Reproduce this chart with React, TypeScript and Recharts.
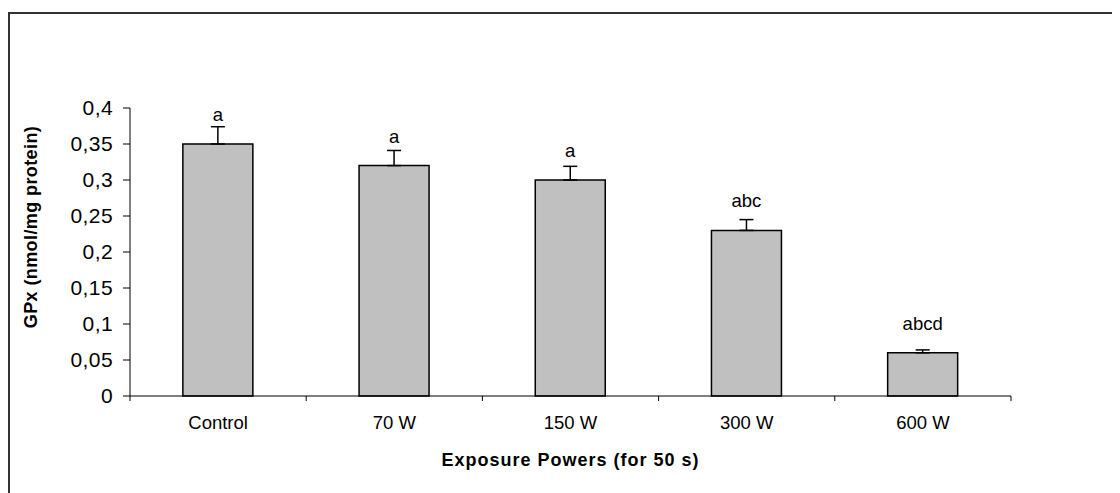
import { BarChart, Bar, XAxis, YAxis, ErrorBar, LabelList, Label } from 'recharts';

// ---- data ----
const categories = ['Control', '70 W', '150 W', '300 W', '600 W'];
const gpxValues = [0.35, 0.32, 0.3, 0.23, 0.06];
const gpxErrors = [0.024, 0.021, 0.019, 0.015, 0.004];
const significance = ['a', 'a', 'a', 'abc', 'abcd'];
const yTicks = [0, 0.05, 0.1, 0.15, 0.2, 0.25, 0.3, 0.35, 0.4];

const data = categories.map((name, i) => ({
  name,
  gpx: gpxValues[i],
  err: [0, gpxErrors[i]],
  sig: significance[i],
}));

// ---- layout ----
const FONT = '"Liberation Sans", Arial, sans-serif';
const CHART_W = 1110;
const CHART_H = 479;
const MARGIN = { top: 94, right: 109, bottom: 37, left: 0 };
const Y_AXIS_W = 120;
const BAND = (CHART_W - MARGIN.left - Y_AXIS_W - MARGIN.right) / categories.length;

const fmt = (v: number) => String(v).replace('.', ',');

function CategoryTick(props: any) {
  const { x, y, payload } = props;
  const idx = payload?.index ?? props.index;
  const half = BAND / 2;
  return (
    <g>
      <line x1={x - half} y1={y} x2={x - half} y2={y + 5} stroke="#000" />
      {idx === categories.length - 1 && (
        <line x1={x + half} y1={y} x2={x + half} y2={y + 5} stroke="#000" />
      )}
      <text x={x} y={y + 33} textAnchor="middle" fontSize={18.5} fontFamily={FONT} fill="#000">
        {payload.value}
      </text>
    </g>
  );
}

function SigLabel(props: any) {
  const { x, y, width, value } = props;
  return (
    <text x={x + width / 2} y={y - 23} textAnchor="middle" fontSize={18.5} fontFamily={FONT} fill="#000">
      {value}
    </text>
  );
}

export default function App() {
  return (
    <div style={{ paddingTop: 4 }}>
      <style>{'body{overflow:hidden}'}</style>
      <div
        style={{
          width: 1112,
          height: 481,
          boxSizing: 'border-box',
          borderTop: '2px solid #333',
          borderLeft: '2px solid #333',
          background: '#fff',
        }}
      >
        <BarChart
          width={CHART_W}
          height={CHART_H}
          data={data}
          margin={MARGIN}
          barCategoryGap="30%"
        >
          <XAxis
            dataKey="name"
            height={60}
            axisLine={{ stroke: '#000' }}
            tickLine={false}
            tickSize={0}
            tickMargin={0}
            interval={0}
            tick={<CategoryTick />}
          >
            <Label
              content={({ viewBox }: any) => (
                <text
                  x={viewBox.x + viewBox.width / 2}
                  y={viewBox.y + 70}
                  textAnchor="middle"
                  fontSize={18}
                  fontWeight="bold"
                  letterSpacing={1}
                  fontFamily={FONT}
                  fill="#000"
                >
                  Exposure Powers (for 50 s)
                </text>
              )}
            />
          </XAxis>
          <YAxis
            width={Y_AXIS_W}
            domain={[0, 0.4]}
            ticks={yTicks}
            tickFormatter={fmt}
            axisLine={{ stroke: '#000' }}
            tickLine={{ stroke: '#000' }}
            tickSize={7}
            tickMargin={10}
            tick={{ fill: '#000', fontSize: 21, fontFamily: FONT, letterSpacing: 0.4 }}
          >
            <Label
              content={({ viewBox }: any) => {
                const cx = viewBox.x + 27;
                const cy = viewBox.y + viewBox.height / 2 - 25;
                return (
                  <text
                    x={cx}
                    y={cy}
                    transform={`rotate(-90 ${cx} ${cy})`}
                    textAnchor="middle"
                    fontSize={18}
                    fontWeight="bold"
                    letterSpacing={0.4}
                    fontFamily={FONT}
                    fill="#000"
                  >
                    GPx (nmol/mg protein)
                  </text>
                );
              }}
            />
          </YAxis>
          <Bar
            dataKey="gpx"
            fill="#c0c0c0"
            stroke="#000"
            strokeWidth={1.5}
            isAnimationActive={false}
          >
            <ErrorBar dataKey="err" width={7} stroke="#000" strokeWidth={1.5} />
            <LabelList dataKey="sig" content={<SigLabel />} />
          </Bar>
        </BarChart>
      </div>
    </div>
  );
}
